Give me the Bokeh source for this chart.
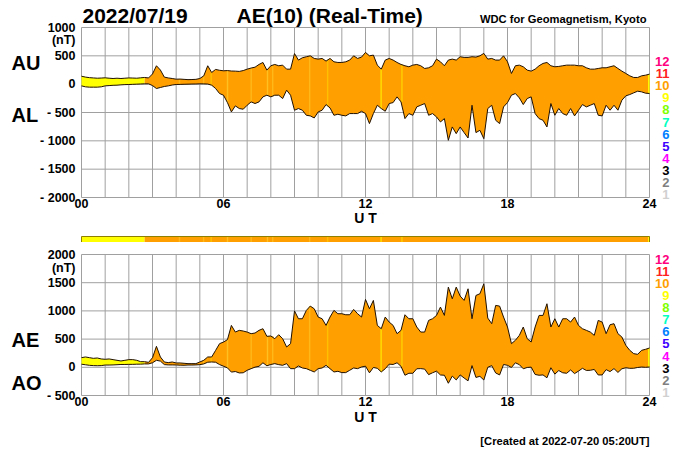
from bokeh.embed import file_html
from bokeh.layouts import column
from bokeh.models import FixedTicker, Label
from bokeh.plotting import figure
from bokeh.resources import INLINE

# 10 minute samples, one row per hour
hours = [i / 6 for i in range(145)]

au = [140, 125, 115, 110, 105, 108,
      112, 105, 100, 105, 100, 105,
      110, 108, 105, 112, 118, 110,
      180, 325, 250, 124, 110, 100,
      88, 90, 85, 80, 82, 85,
      100, 147, 325, 206, 260, 245,
      236, 240, 232, 230, 225, 240,
      265, 285, 300, 348, 383, 248,
      325, 348, 325, 336, 265, 265,
      540, 425, 466, 484, 500, 454,
      442, 454, 407, 454, 395, 383,
      383, 395, 425, 500, 454, 478,
      560, 500, 513, 336, 265, 425,
      454, 425, 383, 348, 325, 307,
      336, 348, 325, 277, 289, 325,
      442, 395, 325, 425, 442, 425,
      484, 472, 472, 484, 478, 500,
      543, 442, 454, 425, 425, 500,
      395, 189, 325, 336, 307, 248,
      230, 265, 325, 366, 383, 325,
      307, 313, 325, 336, 336, 336,
      325, 325, 289, 265, 265, 277,
      289, 289, 307, 325, 277, 230,
      189, 147, 118, 118, 147, 159,
      177]

al = [-30, -47, -53, -53, -53, -47,
      -30, -25, -20, -18, -12, -8,
      -6, -3, 0, 3, 6, 6,
      -25, -77, -59, -41, -30, -15,
      -6, -4, -2, 0, 2, 3,
      6, 5, 2, -18, -77, -165,
      -195, -325, -490, -383, -430, -442,
      -372, -313, -342, -313, -224, -195,
      -224, -195, -195, -254, -106, -195,
      -460, -430, -460, -549, -560, -596,
      -490, -460, -360, -419, -549, -531,
      -549, -560, -519, -519, -519, -478,
      -519, -696, -519, -372, -430, -478,
      -342, -325, -224, -313, -608, -519,
      -549, -401, -372, -342, -549, -519,
      -578, -667, -608, -991, -755, -873,
      -755, -855, -950, -372, -855, -814,
      -962, -430, -372, -637, -696, -401,
      -325, -195, -165, -242, -360, -254,
      -224, -519, -608, -637, -755, -342,
      -549, -430, -519, -549, -430, -560,
      -460, -360, -401, -372, -342, -549,
      -560, -372, -460, -372, -460, -283,
      -206, -183, -153, -124, -136, -159,
      -165]

ae = [171, 183, 171, 159, 165, 148,
      142, 148, 136, 124, 112, 124,
      136, 136, 124, 100, 100, 88,
      170, 372, 183, 94, 83, 94,
      77, 77, 71, 65, 65, 65,
      94, 124, 183, 183, 300, 419,
      448, 490, 743, 625, 655, 643,
      625, 596, 608, 655, 684, 549,
      555, 507, 578, 507, 360, 419,
      1000, 861, 861, 1009, 1085, 1038,
      891, 861, 743, 891, 1009, 950,
      950, 932, 932, 1026, 950, 891,
      1203, 1038, 1186, 743, 684, 891,
      802, 743, 596, 655, 932, 861,
      861, 714, 625, 625, 832, 861,
      920, 1068, 920, 1422, 1215, 1422,
      1263, 1186, 1392, 861, 1274, 1304,
      1481, 873, 773, 1097, 1085, 891,
      714, 419, 478, 566, 714, 507,
      448, 714, 920, 920, 1127, 714,
      861, 714, 861, 861, 802, 891,
      743, 684, 655, 625, 566, 832,
      802, 596, 755, 773, 596, 537,
      389, 301, 242, 230, 301, 319,
      342]

ao = [55, 45, 35, 30, 28, 30,
      40, 40, 42, 46, 50, 50,
      52, 52, 55, 56, 60, 60,
      80, 124, 110, 48, 42, 42,
      41, 38, 36, 40, 40, 42,
      47, 60, 90, 94, 90, 48,
      20, -10, -85, -75, -100, -97,
      -53, -24, 3, 17, 80, 27,
      50, 65, 47, 35, 65, -24,
      -24, 24, -12, -24, -53, -83,
      -24, -12, 35, -24, -83, -71,
      -94, -94, -53, -12, -24, 6,
      20, -98, -3, -18, -82, -26,
      56, 50, 80, 17, -141, -106,
      -106, -26, -23, -32, -130, -97,
      -68, -136, -141, -283, -156, -224,
      -135, -190, -240, 30, -180, -160,
      -225, 0, 30, -100, -135, 50,
      35, -3, 80, 47, -26, -3,
      3, -127, -141, -135, -186, -8,
      -121, -58, -97, -106, -47, -112,
      -67, -18, -56, -53, -38, -136,
      -135, -41, -76, -23, -91, -26,
      -8, -18, -17, -3, 5, 0,
      6]

# moments when only 9 stations reported
stripe_hours = [4.14, 5.16, 5.48, 6.17, 7.17, 7.86, 8.08, 9.64, 10.4, 12.66, 13.54, 23.97]
stripe_au = [88, 145, 200, 240, 285, 250, 325, 490, 430, 265, 348, 175]
stripe_al = [-4, 5, -18, -325, -313, -195, -215, -550, -390, -430, -313, -165]
stripe_ae = [77, 124, 183, 490, 596, 549, 550, 1080, 790, 684, 655, 340]
stripe_ao = [38, 60, 94, -10, -24, 27, 55, -53, 20, -82, 17, 6]
stripe_colors = ["#ffb818", "#ffb818", "#ffc000", "#ffc020", "#ffb818", "#ffc020", "#ffb818",
                 "#ffb818", "#ffc000", "#ffe000", "#ffd000", "#ffff00"]

top_ticks = [1000, 500, 0, -500, -1000, -1500, -2000]
top_tick_labels = ["1000", "500", "0", "- 500", "- 1000", "- 1500", "- 2000"]
bottom_ticks = [2000, 1500, 1000, 500, 0, -500]
bottom_tick_labels = ["2000", "1500", "1000", "500", "0", "- 500"]
x_ticks = [0, 6, 12, 18, 24]
x_tick_labels = ["00", "06", "12", "18", "24"]

station_labels = ["12", "11", "10", "9", "8", "7", "6", "5", "4", "3", "2", "1"]
station_colors = ["#ff0080", "#ff2020", "#ffa000", "#ffff00", "#80ff00", "#00ffc0",
                  "#0080ff", "#4000ff", "#ff00ff", "#000000", "#808080", "#d0d0d0"]

YELLOW = "#ffff00"
ORANGE = "#ff9f00"
GRID = "#a0a0a0"
FONT = "Liberation Sans"
WIDTH = 700
LEFT = 81
PLOT_W = 568
nine_until = 16  # index of the last yellow sample

# labels get clipped to the frame with svg, so the frame fills the whole figure
# and the 0-24 box of each panel sits inside it
x_full = (-LEFT / PLOT_W * 24, (WIDTH - LEFT) / PLOT_W * 24)


def panel(y_min, y_max, height, top, plot_h):
    per_px = (y_max - y_min) / plot_h
    return figure(width=WIDTH, height=height, x_range=x_full,
                  y_range=(y_min - (height - top - plot_h) * per_px, y_max + top * per_px),
                  output_backend="svg", toolbar_location=None, min_border=0, outline_line_color=None)


def style_panel(p, y_min, y_max, ticks, tick_labels):
    p.grid.visible = False
    p.xaxis.fixed_location = y_min
    p.yaxis.fixed_location = 0
    p.xaxis.ticker = FixedTicker(ticks=x_ticks)
    p.xaxis.major_label_overrides = dict(zip(x_ticks, x_tick_labels))
    p.yaxis.ticker = FixedTicker(ticks=ticks)
    p.yaxis.major_label_overrides = dict(zip(ticks, tick_labels))
    for ax in (p.xaxis, p.yaxis):
        ax.axis_line_color = None
        ax.major_tick_line_color = None
        ax.minor_tick_line_color = None
        ax.major_label_text_font = FONT
        ax.major_label_text_font_style = "bold"
        ax.major_label_text_font_size = "12.5px"
        ax.major_label_text_color = "black"
    p.xaxis.major_label_standoff = -5
    p.yaxis.major_label_standoff = 0
    grid_hours = list(range(25))
    p.segment(grid_hours, y_min, grid_hours, y_max, line_color=GRID, line_width=1)
    p.segment(0, ticks, 24, ticks, line_color=GRID, line_width=1)


def txt(p, box, x, y, text, size, color="black", align="left"):
    # x, y are page pixels, turned into the panel's data units so the text lands there
    plot_top, plot_h, y_min, y_max = box
    p.add_layout(Label(x=(x - LEFT) / PLOT_W * 24,
                       y=y_min + (plot_top + plot_h - y) / plot_h * (y_max - y_min),
                       text=text, text_font=FONT, text_font_style="bold", text_font_size=size,
                       text_color=color, text_align=align, text_baseline="middle"))


def fill(p, upper, lower, st_upper, st_lower):
    p.varea(hours[:nine_until + 1], upper[:nine_until + 1], lower[:nine_until + 1], fill_color=YELLOW)
    p.varea(hours[nine_until:], upper[nine_until:], lower[nine_until:], fill_color=ORANGE)
    p.vbar(x=stripe_hours, width=0.06, top=st_upper, bottom=st_lower, fill_color=stripe_colors, line_color=None)
    p.line(hours, upper, line_color="#201000", line_width=1)
    p.line(hours, lower, line_color="#201000", line_width=1)


# upper panel AU / AL
top_box = (27, 170, -2000, 1000)
top = panel(-2000, 1000, 232, 27, 170)
style_panel(top, -2000, 1000, top_ticks, top_tick_labels)
fill(top, au, al, stripe_au, stripe_al)

txt(top, top_box, 82, 15, "2022/07/19", "21px")
txt(top, top_box, 236, 15, "AE(10) (Real-Time)", "21px")
txt(top, top_box, 646, 18, "WDC for Geomagnetism, Kyoto", "11.2px", align="right")
txt(top, top_box, 75, 39, "(nT)", "12.5px", align="right")
txt(top, top_box, 11, 62, "AU", "20px")
txt(top, top_box, 11, 114, "AL", "20px")
txt(top, top_box, 365, 217, "U T", "14px", align="center")
for i in range(12):
    txt(top, top_box, 669, 61 + i * 12.1, station_labels[i], "13px", color=station_colors[i], align="right")

# station count strip
strip = figure(width=WIDTH, height=10, x_range=x_full, y_range=(-2 / 6, 8 / 6), output_backend="svg",
               toolbar_location=None, min_border=0, outline_line_color=None)
strip.axis.visible = False
strip.grid.visible = False
strip.vbar(x=[hours[nine_until] / 2], width=hours[nine_until], top=1, bottom=0, fill_color=YELLOW, line_color=None)
strip.vbar(x=[(24 + hours[nine_until]) / 2], width=24 - hours[nine_until], top=1, bottom=0, fill_color=ORANGE, line_color=None)
strip.vbar(x=stripe_hours, width=0.06, top=1, bottom=0, fill_color=stripe_colors, line_color=None)
strip.quad(left=0, right=24, top=1, bottom=0, fill_color=None, line_color="#908000")

# lower panel AE / AO, this figure starts 242 px down the page
page_y = 242
bottom_box = (12, 141, -500, 2000)
bottom = panel(-500, 2000, 208, 12, 141)
style_panel(bottom, -500, 2000, bottom_ticks, bottom_tick_labels)
fill(bottom, ae, ao, stripe_ae, stripe_ao)

txt(bottom, bottom_box, 75, 267 - page_y, "(nT)", "12.5px", align="right")
txt(bottom, bottom_box, 11, 339 - page_y, "AE", "20px")
txt(bottom, bottom_box, 11, 382 - page_y, "AO", "20px")
txt(bottom, bottom_box, 365, 416 - page_y, "U T", "14px", align="center")
txt(bottom, bottom_box, 649, 440 - page_y, "[Created at 2022-07-20 05:20UT]", "11.2px", align="right")
for i in range(12):
    txt(bottom, bottom_box, 669, 258.7 - page_y + i * 12.1, station_labels[i], "13px", color=station_colors[i], align="right")

p = column(top, strip, bottom, spacing=0)
open("out.html", "w").write(file_html(p, INLINE))
